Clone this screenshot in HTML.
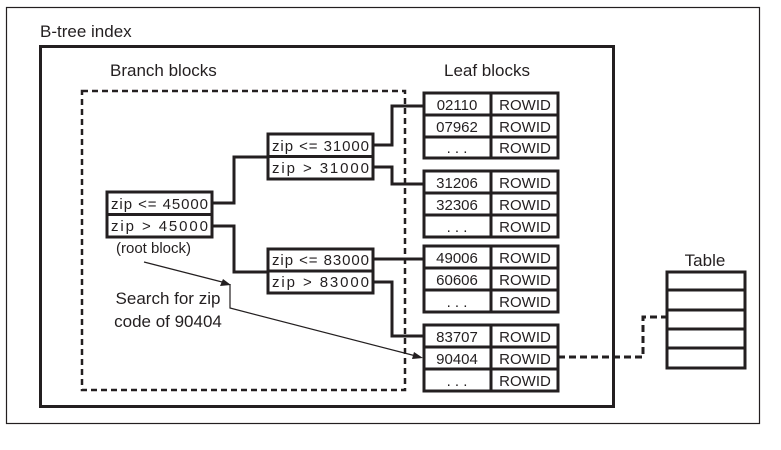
<!DOCTYPE html>
<html><head><meta charset="utf-8"><style>
html,body{margin:0;padding:0;background:#fff;}
svg{display:block;}
text{font-family:"Liberation Sans",sans-serif;fill:#231f20;}
</style></head><body>
<svg width="781" height="450" viewBox="0 0 781 450" xmlns="http://www.w3.org/2000/svg">
<rect x="6.5" y="7.5" width="753" height="416" fill="none" stroke="#231f20" stroke-width="1.2"/>
<text x="40" y="37" font-size="17">B-tree index</text>
<rect x="40.5" y="46.5" width="573" height="360" fill="none" stroke="#231f20" stroke-width="3"/>
<text x="110" y="76" font-size="17">Branch blocks</text>
<text x="444" y="76" font-size="17">Leaf blocks</text>
<rect x="82" y="91" width="323" height="299" fill="none" stroke="#231f20" stroke-width="2.5" stroke-dasharray="6,4"/>

<g fill="none" stroke="#231f20" stroke-width="3">
<rect x="107" y="192" width="105" height="45"/><line x1="107" y1="214.5" x2="212" y2="214.5"/>
<rect x="268" y="134" width="105" height="45"/><line x1="268" y1="156.5" x2="373" y2="156.5"/>
<rect x="268" y="249" width="105" height="44"/><line x1="268" y1="271" x2="373" y2="271"/>
<polyline points="212,203 234,203 234,157 268,157"/>
<polyline points="212,226 234,226 234,272 268,272"/>
<polyline points="373,145 392,145 392,106 424,106"/>
<polyline points="373,167 392,167 392,184 424,184"/>
<polyline points="373,259 424,259"/>
<polyline points="373,282 392,282 392,336 424,336"/>
<rect x="424" y="93" width="134" height="65"/>
<line x1="424" y1="115" x2="558" y2="115"/><line x1="424" y1="137" x2="558" y2="137"/>
<line x1="491" y1="93" x2="491" y2="158"/>
<rect x="424" y="171" width="134" height="66"/>
<line x1="424" y1="193" x2="558" y2="193"/><line x1="424" y1="215" x2="558" y2="215"/>
<line x1="491" y1="171" x2="491" y2="237"/>
<rect x="424" y="246" width="134" height="66"/>
<line x1="424" y1="268" x2="558" y2="268"/><line x1="424" y1="290" x2="558" y2="290"/>
<line x1="491" y1="246" x2="491" y2="312"/>
<rect x="424" y="325" width="134" height="66"/>
<line x1="424" y1="347" x2="558" y2="347"/><line x1="424" y1="369" x2="558" y2="369"/>
<line x1="491" y1="325" x2="491" y2="391"/>
<rect x="667" y="272" width="78" height="96"/>
<line x1="667" y1="290" x2="745" y2="290"/><line x1="667" y1="310" x2="745" y2="310"/>
<line x1="667" y1="329" x2="745" y2="329"/><line x1="667" y1="348" x2="745" y2="348"/>
</g>
<polyline points="558,357 643,357 643,317 667,317" fill="none" stroke="#231f20" stroke-width="3" stroke-dasharray="7,4"/>
<g stroke="#231f20" stroke-width="1.2" fill="none">
<line x1="144" y1="262" x2="226" y2="283"/>
<polyline points="230,284 230,308 416,356"/>
</g>
<polygon points="231,285 220,286 223,279" fill="#231f20"/>
<polygon points="423,358 412,359 414,352" fill="#231f20"/>

<text x="116" y="253" font-size="15">(root block)</text>
<text x="168" y="304" font-size="17" text-anchor="middle">Search for zip</text>
<text x="168" y="327" font-size="17" text-anchor="middle">code of 90404</text>
<text x="705" y="266" font-size="17" text-anchor="middle">Table</text>

<g font-size="15">
<text x="111" y="209" textLength="97" lengthAdjust="spacing">zip &lt;= 45000</text>
<text x="111" y="231" textLength="97" lengthAdjust="spacing">zip &gt; 45000</text>
<text x="272" y="151" textLength="97" lengthAdjust="spacing">zip &lt;= 31000</text>
<text x="272" y="173" textLength="97" lengthAdjust="spacing">zip &gt; 31000</text>
<text x="272" y="265" textLength="97" lengthAdjust="spacing">zip &lt;= 83000</text>
<text x="272" y="287" textLength="97" lengthAdjust="spacing">zip &gt; 83000</text>
</g>
<g font-size="15" text-anchor="middle">
<text x="457" y="110">02110</text><text x="457" y="132">07962</text><text x="457" y="153">. . .</text>
<text x="457" y="188">31206</text><text x="457" y="210">32306</text><text x="457" y="232">. . .</text>
<text x="457" y="263">49006</text><text x="457" y="285">60606</text><text x="457" y="307">. . .</text>
<text x="457" y="342">83707</text><text x="457" y="364">90404</text><text x="457" y="386">. . .</text>
</g>
<g font-size="15" text-anchor="middle">
<text x="525" y="110">ROWID</text><text x="525" y="132">ROWID</text><text x="525" y="153">ROWID</text>
<text x="525" y="188">ROWID</text><text x="525" y="210">ROWID</text><text x="525" y="232">ROWID</text>
<text x="525" y="263">ROWID</text><text x="525" y="285">ROWID</text><text x="525" y="307">ROWID</text>
<text x="525" y="342">ROWID</text><text x="525" y="364">ROWID</text><text x="525" y="386">ROWID</text>
</g>
</svg>
</body></html>
